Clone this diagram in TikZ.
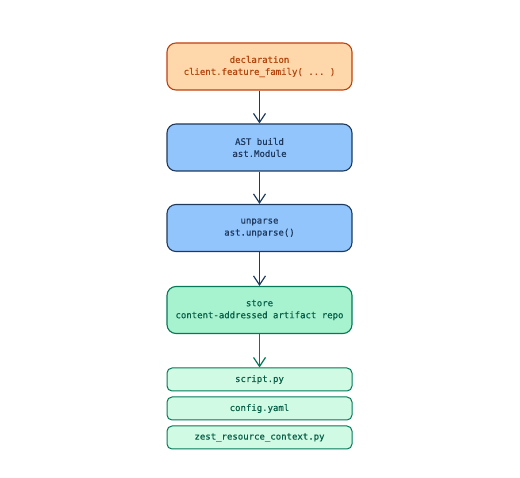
\documentclass[tikz,border=0pt]{standalone}
\usepackage{fontspec}
\setmonofont{DejaVu Sans Mono}[FakeBold=0.5]
\usetikzlibrary{arrows.meta}
\definecolor{orfill}{HTML}{FED7AA}
\definecolor{ordraw}{HTML}{C2410C}
\definecolor{ortext}{HTML}{B4470F}
\definecolor{blfill}{HTML}{93C5FD}
\definecolor{bldraw}{HTML}{1E3A5F}
\definecolor{bltext}{HTML}{1E3A5F}
\definecolor{grfill}{HTML}{A7F3D0}
\definecolor{grdraw}{HTML}{047857}
\definecolor{grtext}{HTML}{065F46}
\definecolor{ltfill}{HTML}{D1FAE5}
\begin{document}
\begin{tikzpicture}[x=1pt,y=-1pt,
  stage/.style={draw, rounded corners=9pt, line width=1.1pt, minimum width=185pt, minimum height=47pt, align=center, font=\ttfamily\fontsize{9}{12}\selectfont, inner sep=0pt},
  file/.style={draw=grdraw, fill=ltfill, text=grtext, rounded corners=5pt, line width=1pt, minimum width=185pt, minimum height=23pt, font=\ttfamily\fontsize{9}{11}\selectfont, inner sep=0pt},
  flow/.style={line width=1.2pt, -{Straight Barb[length=9pt,width=12pt,line width=1.2pt]}}]
\useasboundingbox (0,0) rectangle (520,478);
\node[stage, fill=orfill, draw=ordraw, text=ortext] (decl) at (259.5,66.5) {declaration\\client.feature\_family( ... )};
\node[stage, fill=blfill, draw=bldraw, text=bltext] (ast) at (259.5,147.5) {AST build\\ast.Module};
\node[stage, fill=blfill, draw=bldraw, text=bltext] (unp) at (259.5,228) {unparse\\ast.unparse()};
\node[stage, fill=grfill, draw=grdraw, text=grtext] (store) at (259.5,310) {store\\content-addressed artifact repo};
\node[file] (f1) at (259.5,379.5) {script.py};
\node[file] (f2) at (259.5,408.5) {config.yaml};
\node[file] (f3) at (259.5,437.5) {zest\_resource\_context.py};
\draw[flow, bldraw] (decl) -- (ast);
\draw[flow, bldraw] (ast) -- (unp);
\draw[flow, bldraw] (unp) -- (store);
\draw[flow, grdraw] (store) -- (f1);
\end{tikzpicture}
\end{document}
